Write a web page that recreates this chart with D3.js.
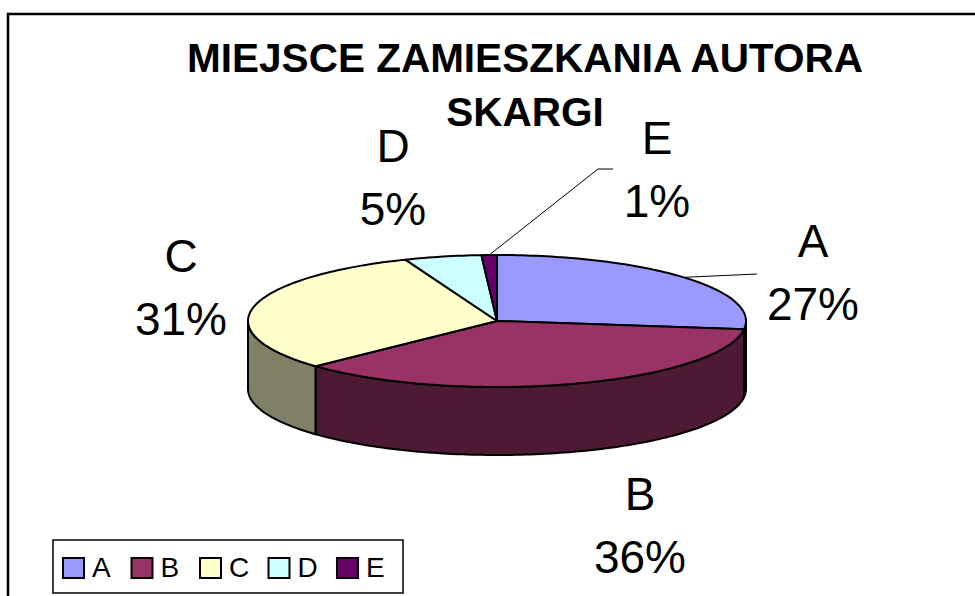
<!DOCTYPE html>
<html>
<head>
<meta charset="utf-8">
<script src="https://cdn.jsdelivr.net/npm/d3@7"></script>
<style>
  body { margin: 0; background: #fff; }
  text { font-family: "Liberation Sans", Arial, sans-serif; }
</style>
</head>
<body>
<div id="chart"></div>
<script>
var categories = ["A", "B", "C", "D", "E"];
var values = [27, 36, 31, 5, 1];
var colors = ["#9999FF", "#993366", "#FFFFCC", "#CCFFFF", "#660066"];
var titleLines = ["MIEJSCE ZAMIESZKANIA AUTORA", "SKARGI"];

var width = 975, height = 596;
var cx = 497, cy = 321, rx = 249, ry = 66, depth = 68;

// where excel put each label (centre of the two-line block) and leader ends
var labelPos = {
    A: [813, 272], B: [640, 525], C: [181, 287], D: [393, 177], E: [657, 169]
};
var leaders = {
    A: [[757, 274]],
    E: [[598, 169], [613, 169]]
};

var svg = d3.select("#chart").append("svg")
    .attr("width", width)
    .attr("height", height);

// outer frame
svg.append("rect")
    .attr("x", 8).attr("y", 14)
    .attr("width", 1000).attr("height", 700)
    .attr("fill", "none")
    .attr("stroke", "#000")
    .attr("stroke-width", 2.5);

var title = svg.append("text")
    .attr("text-anchor", "middle")
    .style("font-size", "40.5px")
    .style("font-weight", "bold");
titleLines.forEach(function(t, i) {
    title.append("tspan").attr("x", 525).attr("y", 72 + i * 54).text(t);
});

var pie = d3.pie().sort(null).value(function(d) { return d.value; });
var data = categories.map(function(c, i) { return {name: c, value: values[i], color: colors[i]}; });
var arcs = pie(data);

function px(a) { return cx + rx * Math.sin(a); }
function py(a) { return cy - ry * Math.cos(a); }

function arcPoints(a0, a1, dy) {
    var pts = [];
    var n = Math.max(2, Math.ceil(Math.abs(a1 - a0) / 0.02));
    for (var k = 0; k <= n; k++) {
        var a = a0 + (a1 - a0) * k / n;
        pts.push([px(a), py(a) + dy]);
    }
    return pts;
}

// excel shades the side at half brightness
function sideColor(c) {
    var rgb = d3.rgb(c);
    return d3.rgb(rgb.r / 2, rgb.g / 2, rgb.b / 2).formatHex();
}

var line = d3.line();

// side walls, only the front half can be seen
arcs.forEach(function(d) {
    var s = Math.max(d.startAngle, Math.PI / 2);
    var e = Math.min(d.endAngle, 3 * Math.PI / 2);
    if (e <= s) return;
    var pts = arcPoints(s, e, 0).concat(arcPoints(e, s, depth));
    svg.append("path")
        .attr("d", line(pts) + "Z")
        .attr("fill", sideColor(d.data.color))
        .attr("stroke", "#000")
        .attr("stroke-width", 2)
        .attr("stroke-linejoin", "round");
});

// top faces
arcs.forEach(function(d) {
    var pts = [[cx, cy]].concat(arcPoints(d.startAngle, d.endAngle, 0));
    svg.append("path")
        .attr("d", line(pts) + "Z")
        .attr("fill", d.data.color)
        .attr("stroke", "#000")
        .attr("stroke-width", 2)
        .attr("stroke-linejoin", "round");
});

// leader lines
arcs.forEach(function(d) {
    var l = leaders[d.data.name];
    if (!l) return;
    var mid = (d.startAngle + d.endAngle) / 2;
    var pts = [[px(mid), py(mid)]].concat(l);
    svg.append("path")
        .attr("d", line(pts))
        .attr("fill", "none")
        .attr("stroke", "#000")
        .attr("stroke-width", 1);
});

// data labels
arcs.forEach(function(d) {
    var p = labelPos[d.data.name];
    var t = svg.append("text")
        .attr("text-anchor", "middle")
        .style("font-size", "46px");
    t.append("tspan").attr("x", p[0]).attr("y", p[1] - 15).text(d.data.name);
    t.append("tspan").attr("x", p[0]).attr("y", p[1] + 48).text(Math.round(d.value) + "%");
});

// legend
var legend = svg.append("g").attr("transform", "translate(53,540)");
legend.append("rect")
    .attr("width", 350).attr("height", 53)
    .attr("fill", "#fff")
    .attr("stroke", "#000")
    .attr("stroke-width", 1.5);

var lx = d3.scalePoint().domain(categories).range([10, 284]);
var item = legend.selectAll(".item")
    .data(data)
    .enter().append("g")
    .attr("class", "item")
    .attr("transform", function(d) { return "translate(" + lx(d.name) + ",0)"; });
item.append("rect")
    .attr("x", 0).attr("y", 18)
    .attr("width", 21).attr("height", 20)
    .attr("fill", function(d) { return d.color; })
    .attr("stroke", "#000")
    .attr("stroke-width", 2);
item.append("text")
    .attr("x", 29).attr("y", 37)
    .style("font-size", "28px")
    .text(function(d) { return d.name; });
</script>
</body>
</html>
